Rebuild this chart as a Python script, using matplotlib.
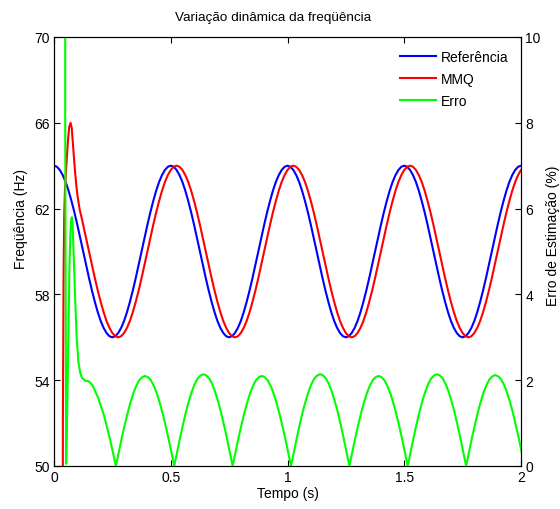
import numpy as np
import matplotlib
matplotlib.use("Agg")
import matplotlib.pyplot as plt

plt.rcParams['font.family'] = ['Liberation Sans', 'DejaVu Sans']

# referencia, amostrada a cada 0.0125 s de 0 a 2 s
t_ref = np.linspace(0, 2, 161)
referencia = [
	64.00, 63.95, 63.80, 63.56, 63.24, 62.83, 62.35, 61.82, 61.24, 60.63,
	60.00, 59.37, 58.76, 58.18, 57.65, 57.17, 56.76, 56.44, 56.20, 56.05,
	56.00, 56.05, 56.20, 56.44, 56.76, 57.17, 57.65, 58.18, 58.76, 59.37,
	60.00, 60.63, 61.24, 61.82, 62.35, 62.83, 63.24, 63.56, 63.80, 63.95,
	64.00, 63.95, 63.80, 63.56, 63.24, 62.83, 62.35, 61.82, 61.24, 60.63,
	60.00, 59.37, 58.76, 58.18, 57.65, 57.17, 56.76, 56.44, 56.20, 56.05,
	56.00, 56.05, 56.20, 56.44, 56.76, 57.17, 57.65, 58.18, 58.76, 59.37,
	60.00, 60.63, 61.24, 61.82, 62.35, 62.83, 63.24, 63.56, 63.80, 63.95,
	64.00, 63.95, 63.80, 63.56, 63.24, 62.83, 62.35, 61.82, 61.24, 60.63,
	60.00, 59.37, 58.76, 58.18, 57.65, 57.17, 56.76, 56.44, 56.20, 56.05,
	56.00, 56.05, 56.20, 56.44, 56.76, 57.17, 57.65, 58.18, 58.76, 59.37,
	60.00, 60.63, 61.24, 61.82, 62.35, 62.83, 63.24, 63.56, 63.80, 63.95,
	64.00, 63.95, 63.80, 63.56, 63.24, 62.83, 62.35, 61.82, 61.24, 60.63,
	60.00, 59.37, 58.76, 58.18, 57.65, 57.17, 56.76, 56.44, 56.20, 56.05,
	56.00, 56.05, 56.20, 56.44, 56.76, 57.17, 57.65, 58.18, 58.76, 59.37,
	60.00, 60.63, 61.24, 61.82, 62.35, 62.83, 63.24, 63.56, 63.80, 63.95,
	64.00]

# MMQ: transitorio inicial + regime (0.125 s a 2 s, passo 0.0125)
t_mmq_ini = [0.0, 0.036, 0.038, 0.041, 0.044, 0.047, 0.054, 0.060, 0.065,
	0.071, 0.076, 0.080, 0.085, 0.090, 0.095, 0.100, 0.110, 0.120]
mmq_ini = [0.0, 0.0, 52.0, 59.0, 61.8, 62.9, 64.2, 65.2, 65.8,
	66.0, 65.75, 65.2, 64.45, 63.75, 63.15, 62.65, 61.95, 61.5]
t_mmq_reg = np.linspace(0.125, 2, 151)
mmq_reg = [
	61.24, 60.63,
	60.00, 59.37, 58.76, 58.18, 57.65, 57.17, 56.76, 56.44, 56.20, 56.05,
	56.00, 56.05, 56.20, 56.44, 56.76, 57.17, 57.65, 58.18, 58.76, 59.37,
	60.00, 60.63, 61.24, 61.82, 62.35, 62.83, 63.24, 63.56, 63.80, 63.95,
	64.00, 63.95, 63.80, 63.56, 63.24, 62.83, 62.35, 61.82, 61.24, 60.63,
	60.00, 59.37, 58.76, 58.18, 57.65, 57.17, 56.76, 56.44, 56.20, 56.05,
	56.00, 56.05, 56.20, 56.44, 56.76, 57.17, 57.65, 58.18, 58.76, 59.37,
	60.00, 60.63, 61.24, 61.82, 62.35, 62.83, 63.24, 63.56, 63.80, 63.95,
	64.00, 63.95, 63.80, 63.56, 63.24, 62.83, 62.35, 61.82, 61.24, 60.63,
	60.00, 59.37, 58.76, 58.18, 57.65, 57.17, 56.76, 56.44, 56.20, 56.05,
	56.00, 56.05, 56.20, 56.44, 56.76, 57.17, 57.65, 58.18, 58.76, 59.37,
	60.00, 60.63, 61.24, 61.82, 62.35, 62.83, 63.24, 63.56, 63.80, 63.95,
	64.00, 63.95, 63.80, 63.56, 63.24, 62.83, 62.35, 61.82, 61.24, 60.63,
	60.00, 59.37, 58.76, 58.18, 57.65, 57.17, 56.76, 56.44, 56.20, 56.05,
	56.00, 56.05, 56.20, 56.44, 56.76, 57.17, 57.65, 58.18, 58.76, 59.37,
	60.00, 60.63, 61.24, 61.82, 62.35, 62.83, 63.24, 63.56, 63.80]

# erro (%): transitorio + arcos (0.265 s a 2.015 s, passo 0.0125)
t_erro_ini = [0.0, 0.046, 0.048, 0.052, 0.057, 0.061, 0.066, 0.070, 0.074,
	0.077, 0.080, 0.083, 0.090, 0.097, 0.104, 0.112, 0.120, 0.133, 0.150,
	0.165, 0.190, 0.215, 0.240]
erro_ini = [100.0, 100.0, 8.0, 0.05, 1.4, 2.8, 4.6, 5.4, 5.78,
	5.80, 5.60, 5.10, 4.00, 3.00, 2.45, 2.18, 2.05, 1.99, 1.97,
	1.88, 1.58, 1.16, 0.62]
t_erro_reg = np.linspace(0.265, 2.015, 141)
erro_reg = [
	0.00, 0.33, 0.65, 0.95, 1.23, 1.48, 1.70, 1.87, 2.00, 2.07,
	2.10, 2.07, 2.00, 1.87, 1.70, 1.48, 1.23, 0.95, 0.65, 0.33,
	0.00, 0.33, 0.66, 0.97, 1.26, 1.51, 1.73, 1.91, 2.04, 2.11,
	2.14, 2.11, 2.04, 1.91, 1.73, 1.51, 1.26, 0.97, 0.66, 0.33,
	0.00, 0.33, 0.65, 0.95, 1.23, 1.48, 1.70, 1.87, 2.00, 2.07,
	2.10, 2.07, 2.00, 1.87, 1.70, 1.48, 1.23, 0.95, 0.65, 0.33,
	0.00, 0.33, 0.66, 0.97, 1.26, 1.51, 1.73, 1.91, 2.04, 2.11,
	2.14, 2.11, 2.04, 1.91, 1.73, 1.51, 1.26, 0.97, 0.66, 0.33,
	0.00, 0.33, 0.65, 0.95, 1.23, 1.48, 1.70, 1.87, 2.00, 2.07,
	2.10, 2.07, 2.00, 1.87, 1.70, 1.48, 1.23, 0.95, 0.65, 0.33,
	0.00, 0.33, 0.66, 0.97, 1.26, 1.51, 1.73, 1.91, 2.04, 2.11,
	2.14, 2.11, 2.04, 1.91, 1.73, 1.51, 1.26, 0.97, 0.66, 0.33,
	0.00, 0.33, 0.66, 0.96, 1.25, 1.50, 1.72, 1.89, 2.02, 2.09,
	2.12, 2.09, 2.02, 1.89, 1.72, 1.50, 1.25, 0.96, 0.66, 0.33,
	0.00]

x_ticks = [0, 0.5, 1, 1.5, 2]
x_labels = ['0', '0.5', '1', '1.5', '2']
freq_ticks = [50, 54, 58, 62, 66, 70]
erro_ticks = [0, 2, 4, 6, 8, 10]


def plot_freq():
	fig = plt.figure(figsize=(5.6, 5.1), dpi=100)
	ax1 = fig.add_axes([54/560, 43/510, 467/560, 429/510])
	ax2 = ax1.twinx()

	t_mmq = list(t_mmq_ini) + list(t_mmq_reg)
	mmq = mmq_ini + mmq_reg
	t_erro = list(t_erro_ini) + list(t_erro_reg)
	erro = erro_ini + erro_reg

	ref_line, = ax1.plot(t_ref, referencia, color=(0, 0, 1), lw=1.5, label='Referência')
	mmq_line, = ax1.plot(t_mmq, mmq, color=(1, 0, 0), lw=1.5, label='MMQ')
	erro_line, = ax2.plot(t_erro, erro, color=(0, 1, 0), lw=1.5, label='Erro')

	ax1.set_xlim(0, 2)
	ax1.set_ylim(50, 70)
	ax2.set_ylim(0, 10)
	ax1.set_xticks(x_ticks)
	ax1.set_xticklabels(x_labels)
	ax1.set_yticks(freq_ticks)
	ax2.set_yticks(erro_ticks)

	ax1.tick_params(direction='in', length=4, labelsize=10, top=True, right=False, pad=3)
	ax2.tick_params(direction='in', length=4, labelsize=10, pad=3)
	for ax in (ax1, ax2):
		for s in ax.spines.values():
			s.set_linewidth(0.8)

	ax1.set_xlabel('Tempo (s)', fontsize=10, labelpad=1)
	ax1.set_ylabel('Freqüência (Hz)', fontsize=10, va='center', ha='center')
	ax2.set_ylabel('Erro de Estimação (%)', fontsize=10, va='center', ha='center')
	ax1.yaxis.set_label_coords(-0.071, 0.578)
	ax2.yaxis.set_label_coords(1.068, 0.54)
	fig.text(273/560, 1 - 18/510, 'Variação dinâmica da freqüência', ha='center', va='center', fontsize=9.7)

	ax2.legend(handles=[ref_line, mmq_line, erro_line], loc='upper right', frameon=False,
		fontsize=10, handlelength=2.6, handletextpad=0.35, labelspacing=0.6)

	fig.savefig('out.png', dpi=100)


if __name__ == "__main__":
	plot_freq()
